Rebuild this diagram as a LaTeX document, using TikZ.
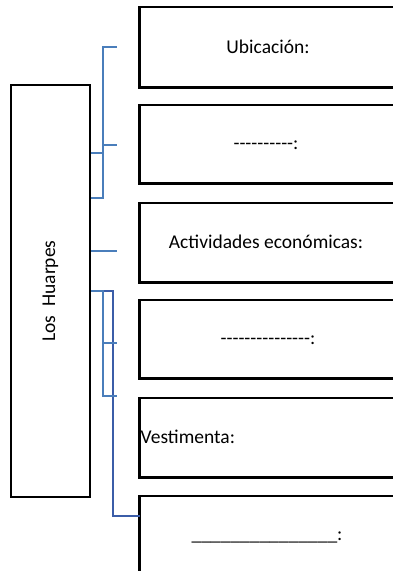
\documentclass[tikz,border=0pt]{standalone}
\usepackage{fontspec}
\setmainfont{Carlito}[Ligatures=TeXOff]
\definecolor{lblue}{HTML}{4A7EBB}
\definecolor{dblue}{HTML}{3B5DA8}
\begin{document}
\begin{tikzpicture}[x=1pt,y=-1pt,
  box/.style={draw=black,line width=2.4pt,rectangle,inner sep=0pt},
  rbox/.style={rectangle,inner sep=0pt,anchor=north west,minimum width=270pt},
  rside/.style={draw=black,line width=2.4pt,line join=miter},
  lbl/.style={inner sep=0pt,font=\fontsize{19.5}{23}\selectfont},
  lb/.style={draw=lblue,line width=2pt},
  db/.style={draw=dblue,line width=2pt}]
\useasboundingbox (0,0) rectangle (393,571);
\clip (0,0) rectangle (393,571);
% left box
\node[box,minimum width=79pt,minimum height=412pt] (L) at (50.5,291) {};
\node[lbl,rotate=90] (Lt) at (L.center) {Los\ \ Huarpes};
% right boxes (their right sides lie outside the picture)
\node[rbox,minimum height=80pt] (B1) at (139.5,7) {};
\node[rbox,minimum height=78pt] (B2) at (139.5,105) {};
\node[rbox,minimum height=79pt] (B3) at (139.5,203) {};
\node[rbox,minimum height=78pt] (B4) at (139.5,300) {};
\node[rbox,minimum height=79pt] (B5) at (139.5,398) {};
\node[rbox,minimum height=100pt] (B6) at (139.5,496) {};
\foreach \b in {B1,B2,B3,B4,B5,B6}
  \draw[rside] (\b.north east) -- (\b.north west) -- (\b.south west) -- (\b.south east);
% texts
\node[lbl] (T1) at (268,47) {Ubicación:};
\node[lbl] (T2) at (266,145) {----------:};
\node[lbl] (T3) at (266,242) {Actividades económicas:};
\node[lbl] (T4) at (268,340) {---------------:};
\node[lbl,anchor=west] (T5) at (140.5,437) {Vestimenta:};
\node[lbl,anchor=base] (T6) at (267,540) {\_\_\_\_\_\_\_\_\_\_\_\_\_\_\_:};
% connector coordinates
\coordinate (v1t) at (103,47);
\coordinate (v1m) at (103,153);
\coordinate (v1k) at (103,145);
\coordinate (v1b) at (103,198);
\coordinate (t1) at (117,47);
\coordinate (t2) at (117,145);
\coordinate (t3) at (117,251);
\coordinate (v2t) at (103,291);
\coordinate (v2k) at (103,343);
\coordinate (v2b) at (103,396);
\coordinate (t4) at (117,343);
\coordinate (t5) at (117,396);
\coordinate (d2t) at (113,291);
\coordinate (d2b) at (113,516);
% bracket 1
\draw[lb] (t1) -- (v1t) -- (v1b) -- (L.east |- v1b);
\draw[lb] (L.east |- v1m) -- (v1m);
\draw[lb] (v1k) -- (t2);
% single line
\draw[lb] (L.east |- t3) -- (t3);
% dark connector
\draw[db] (L.east |- d2t) -- (d2t) -- (d2b) -- (B6.west |- d2b);
% bracket 2
\draw[lb] (L.east |- v2t) -- (v2t) -- (v2b) -- (t5);
\draw[lb] (v2k) -- (t4);
\end{tikzpicture}
\end{document}
